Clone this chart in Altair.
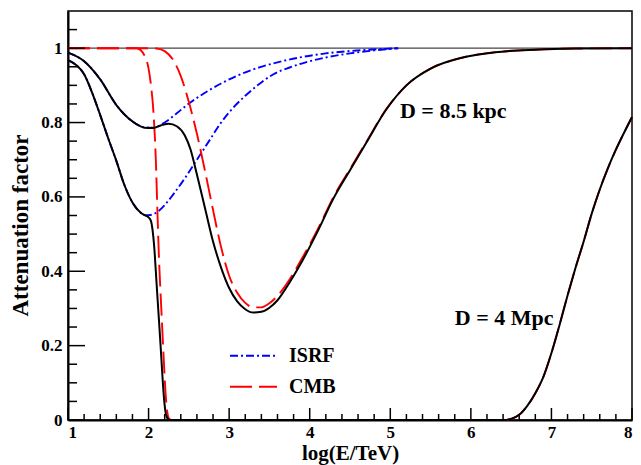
import altair as alt
import pandas as pd

# ---------------- data ----------------
# Total attenuation, D = 8.5 kpc (black, upper)
gal_tot_x = [1.0, 1.2, 1.4, 1.6, 1.8, 1.95, 2.05, 2.15, 2.25, 2.35, 2.45, 2.52, 2.6, 2.7, 2.8,
             2.9, 3.0, 3.1, 3.2, 3.3, 3.4, 3.5, 3.6, 3.75, 3.9, 4.1, 4.3, 4.5, 4.7, 4.95,
             5.2, 5.5, 5.9, 6.3, 6.8, 7.3, 8.0]
gal_tot_y = [0.988, 0.965, 0.916, 0.847, 0.803, 0.786, 0.785, 0.792, 0.797, 0.79, 0.765, 0.728,
             0.66, 0.57, 0.48, 0.41, 0.355, 0.319, 0.298, 0.289, 0.291, 0.302, 0.322, 0.37,
             0.425, 0.508, 0.598, 0.672, 0.745, 0.835, 0.9, 0.945, 0.975, 0.989, 0.996, 0.999, 1.0]

# CMB attenuation, D = 8.5 kpc (red dashed)
gal_cmb_x = [1.0, 2.0, 2.1, 2.2, 2.3, 2.4, 2.5, 2.6, 2.7, 2.8, 2.9, 3.0, 3.1, 3.2, 3.3, 3.4,
             3.5, 3.6, 3.75, 3.9, 4.1, 4.3, 4.5, 4.7, 4.95, 5.2, 5.5, 5.9, 6.3, 6.8, 7.3, 8.0]
gal_cmb_y = [1.0, 1.0, 0.999, 0.992, 0.97, 0.925, 0.855, 0.77, 0.67, 0.565, 0.465, 0.388, 0.342,
             0.315, 0.303, 0.303, 0.314, 0.334, 0.378, 0.433, 0.513, 0.602, 0.675, 0.747, 0.836,
             0.9, 0.945, 0.975, 0.989, 0.996, 0.999, 1.0]

# ISRF attenuation, D = 8.5 kpc (blue dash-dot)
gal_isrf_x = [1.0, 1.2, 1.4, 1.6, 1.8, 1.95, 2.05, 2.2, 2.35, 2.5, 2.7, 2.9, 3.1, 3.3, 3.6,
              3.9, 4.2, 4.6, 5.1]
gal_isrf_y = [0.988, 0.965, 0.916, 0.847, 0.803, 0.787, 0.786, 0.80, 0.825, 0.851, 0.88, 0.905,
              0.926, 0.943, 0.962, 0.976, 0.986, 0.994, 1.0]

# Total attenuation, D = 4 Mpc (black, lower)
ext_tot_x = [1.0, 1.1, 1.2, 1.3, 1.4, 1.5, 1.6, 1.7, 1.8, 1.9, 1.95, 2.0, 2.03, 2.05, 2.07,
             2.09, 2.11, 2.13, 2.15, 2.17, 2.19, 2.21, 2.23, 2.26]
ext_tot_y = [0.968, 0.955, 0.93, 0.88, 0.82, 0.757, 0.697, 0.632, 0.585, 0.558, 0.551, 0.545,
             0.535, 0.51, 0.466, 0.40, 0.331, 0.265, 0.197, 0.125, 0.062, 0.022, 0.006, 0.0]

# CMB attenuation, D = 4 Mpc (red dashed)
ext_cmb_x = [1.0, 1.85, 1.9, 1.95, 2.0, 2.03, 2.06, 2.09, 2.11, 2.13, 2.15, 2.17, 2.19, 2.21,
             2.23, 2.25, 2.28]
ext_cmb_y = [1.0, 1.0, 0.995, 0.98, 0.945, 0.9, 0.83, 0.70, 0.56, 0.43, 0.335, 0.245, 0.155,
             0.075, 0.025, 0.005, 0.0]

# recovery at very high energy, D = 4 Mpc (black and red coincide)
ext_rise_x = [6.3, 6.4, 6.5, 6.6, 6.7, 6.8, 6.9, 7.0, 7.1, 7.2, 7.3, 7.4, 7.5, 7.6, 7.7, 7.8,
              7.9, 8.0]
ext_rise_y = [0.0, 0.0, 0.003, 0.014, 0.038, 0.072, 0.116, 0.18, 0.255, 0.335, 0.41, 0.48,
              0.555, 0.62, 0.677, 0.727, 0.772, 0.815]

# ISRF attenuation, D = 4 Mpc (blue dash-dot)
ext_isrf_x = [1.0, 1.1, 1.2, 1.3, 1.4, 1.5, 1.6, 1.7, 1.8, 1.9, 1.95, 2.0, 2.1, 2.2, 2.3, 2.45,
              2.6, 2.75, 2.9, 3.05, 3.2, 3.4, 3.55, 3.75, 3.95, 4.2, 4.5, 4.8, 5.1]
ext_isrf_y = [0.968, 0.955, 0.93, 0.88, 0.82, 0.757, 0.697, 0.632, 0.585, 0.558, 0.551, 0.551,
              0.558, 0.578, 0.605, 0.65, 0.70, 0.75, 0.80, 0.84, 0.872, 0.908, 0.93, 0.948,
              0.962, 0.975, 0.986, 0.994, 1.0]

legend_kinds = ["ISRF", "CMB"]
legend_colors = ["#0000ff", "#ff0000"]
legend_dashes = [[8, 3, 2, 3], [22, 7]]

ann_x = [5.12, 5.80]
ann_y = [0.83, 0.274]
ann_text = ["D = 8.5 kpc", "D = 4 Mpc"]

x_major = [1, 2, 3, 4, 5, 6, 7, 8]
x_minor = [1.2, 1.4, 1.6, 1.8, 2.2, 2.4, 2.6, 2.8, 3.2, 3.4, 3.6, 3.8, 4.2, 4.4, 4.6, 4.8,
           5.2, 5.4, 5.6, 5.8, 6.2, 6.4, 6.6, 6.8, 7.2, 7.4, 7.6, 7.8]
y_major = [0, 0.2, 0.4, 0.6, 0.8, 1.0]
y_minor = [0.05, 0.1, 0.15, 0.25, 0.3, 0.35, 0.45, 0.5, 0.55, 0.65, 0.7, 0.75, 0.85, 0.9,
           0.95, 1.05]
unity = [1.0]

# ---------------- tables ----------------
def table(series, kind, xs, ys):
    return pd.DataFrame({"series": series, "kind": kind, "x": xs, "y": ys})

colored_df = pd.concat([
    table("isrf_gal", "ISRF", gal_isrf_x, gal_isrf_y),
    table("isrf_ext", "ISRF", ext_isrf_x, ext_isrf_y),
    table("cmb_gal", "CMB", gal_cmb_x, gal_cmb_y),
    table("cmb_ext", "CMB", ext_cmb_x + ext_rise_x, ext_cmb_y + ext_rise_y),
], ignore_index=True)

total_df = pd.concat([
    table("tot_gal", "total", gal_tot_x, gal_tot_y),
    table("tot_ext", "total", ext_tot_x + ext_rise_x, ext_tot_y + ext_rise_y),
], ignore_index=True)

W, H = 564, 409
FONT = "Liberation Serif"

xs = alt.Scale(domain=[1, 8], nice=False, zero=False)
ys = alt.Scale(domain=[0, 1.1], nice=False, zero=True)

xaxis = alt.Axis(values=x_major, format="d", title="log(E/TeV)", ticks=False, tickSize=0,
                 labelPadding=4, grid=False, domainColor="black", domainWidth=2,
                 labelFont=FONT, labelFontWeight="bold", labelFontSize=17, labelColor="black",
                 titleFont=FONT, titleFontWeight="bold", titleFontSize=21, titleColor="black",
                 titleBaseline="alphabetic", titleY=39)
yaxis = alt.Axis(values=y_major, format="~g", title="Attenuation factor", ticks=False,
                 tickSize=0, labelPadding=6, grid=False, domainColor="black", domainWidth=2,
                 labelFont=FONT, labelFontWeight="bold", labelFontSize=17, labelColor="black",
                 titleFont=FONT, titleFontWeight="bold", titleFontSize=23, titleColor="black",
                 titleBaseline="alphabetic", titleX=-41, titleY=214, titleAlign="center",
                 titleAngle=270)

leg = alt.Legend(title=None, orient="none", legendX=161, legendY=334.7, padding=0,
                 symbolType="stroke", symbolSize=2209, symbolStrokeWidth=2,
                 labelFont=FONT, labelFontWeight="bold", labelFontSize=20,
                 labelColor="black", labelOffset=11, rowPadding=11, clipHeight=20)

unity_line = alt.Chart(pd.DataFrame({"v": unity})).mark_rule(
    color="#444444", strokeWidth=1.2).encode(
    y=alt.Y("v:Q", scale=ys, axis=yaxis))

colored = alt.Chart(colored_df).mark_line(strokeWidth=1.9, interpolate="monotone").encode(
    x=alt.X("x:Q", scale=xs, axis=xaxis),
    y=alt.Y("y:Q", scale=ys, axis=yaxis),
    color=alt.Color("kind:N", scale=alt.Scale(domain=legend_kinds, range=legend_colors),
                    legend=leg),
    strokeDash=alt.StrokeDash("kind:N", scale=alt.Scale(domain=legend_kinds, range=legend_dashes),
                              legend=leg),
    detail="series:N",
)

total = alt.Chart(total_df).mark_line(strokeWidth=2, color="black",
                                      interpolate="monotone").encode(
    x=alt.X("x:Q", scale=xs, axis=xaxis),
    y=alt.Y("y:Q", scale=ys, axis=yaxis),
    detail="series:N",
)

ann = alt.Chart(pd.DataFrame({"x": ann_x, "y": ann_y, "t": ann_text})).mark_text(
    align="left", baseline="middle", font=FONT, fontWeight="bold", fontSize=22,
    color="black").encode(
    x=alt.X("x:Q", scale=xs, axis=xaxis),
    y=alt.Y("y:Q", scale=ys, axis=yaxis),
    text="t:N",
)

def xticks(vals, length):
    return alt.Chart(pd.DataFrame({"v": vals})).mark_rule(color="black", strokeWidth=1.5).encode(
        x=alt.X("v:Q", scale=xs, axis=xaxis),
        y=alt.value(H), y2=alt.value(H - length))

def yticks(vals, length):
    return alt.Chart(pd.DataFrame({"v": vals})).mark_rule(color="black", strokeWidth=1.5).encode(
        y=alt.Y("v:Q", scale=ys, axis=yaxis),
        x=alt.value(0), x2=alt.value(length))

chart = alt.layer(
    unity_line, colored, total, ann,
    xticks(x_major, 12), xticks(x_minor, 6),
    yticks(y_major, 17), yticks(y_minor, 9),
).properties(
    width=W, height=H,
    autosize=alt.AutoSizeParams(type="none"),
    padding={"left": 60, "top": 3, "right": 1, "bottom": 45},
    background="white",
).configure_view(stroke="black", strokeWidth=1.5)

chart.save("out.html", embed_options={"renderer": "svg", "actions": False})
